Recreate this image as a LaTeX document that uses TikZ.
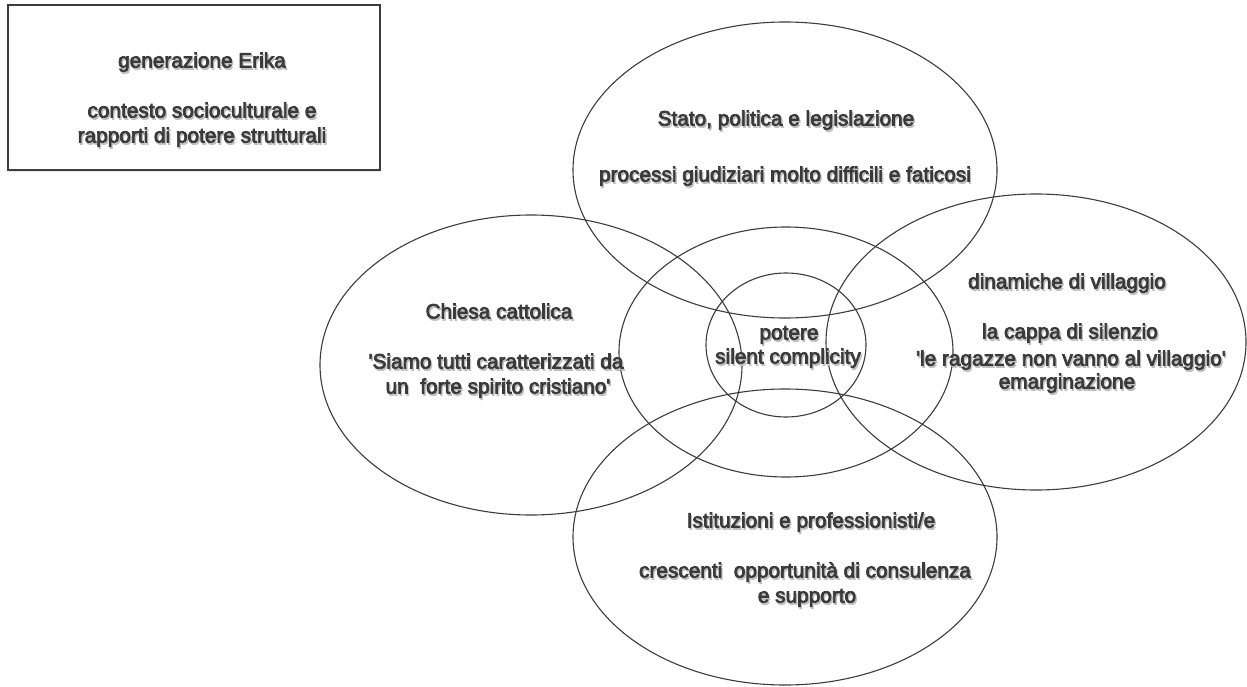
\documentclass[tikz,border=0pt]{standalone}
\usepackage{fontspec}
\setmainfont{Liberation Sans}
\newfontfamily\heavyfont{Liberation Sans}[FakeBold=3.5]
\usetikzlibrary{shapes.geometric,shadows,calc}
\definecolor{ink}{HTML}{3A3A3A}
\definecolor{linec}{HTML}{3C3C3C}
\tikzset{
  venn/.style={ellipse, draw=linec, line width=1.1pt, inner sep=0pt},
  lbl/.style={anchor=base, inner sep=0pt, text=ink, font=\heavyfont\fontsize{20.8}{25}\selectfont},
  lblshadow/.style={anchor=base, inner sep=0pt, text=black!25, font=\heavyfont\fontsize{20.8}{25}\selectfont},
  framebox/.style={draw=linec, line width=1.2pt, fill=white, inner sep=0pt,
    drop shadow={shadow xshift=1pt, shadow yshift=-2pt, opacity=0.2}}
}
\newcommand{\vlabel}[4]{%
  \node[lblshadow] (#1s) at ($(#2,#3)+(1.3,2)$) {#4};
  \node[lbl] (#1) at (#2,#3) {#4};}
\begin{document}
\begin{tikzpicture}[x=1pt,y=-1pt]
\useasboundingbox (0,0) rectangle (1247,687);
% box
\node[framebox, minimum width=372pt, minimum height=165pt] (box) at (194,87.5) {};
% ellipses
\node[venn, minimum width=424pt, minimum height=296pt] (top) at (785,170) {};
\node[venn, minimum width=422pt, minimum height=300pt] (left) at (531,365) {};
\node[venn, minimum width=420pt, minimum height=296pt] (right) at (1036,342) {};
\node[venn, minimum width=424pt, minimum height=296pt] (bottom) at (785,537) {};
\node[venn, minimum width=334pt, minimum height=250pt] (mid) at (786,352) {};
\node[venn, minimum width=160pt, minimum height=144pt] (core) at (786,345) {};
% texts
\vlabel{b1}{202}{67.5}{generazione Erika}
\vlabel{b2}{202}{117.5}{contesto socioculturale e}
\vlabel{b3}{202}{142.5}{rapporti di potere strutturali}
\vlabel{t1}{786}{125.5}{Stato, politica e legislazione}
\vlabel{t2}{785}{181.5}{processi giudiziari molto difficili e faticosi}
\vlabel{l1}{499}{318.5}{Chiesa cattolica}
\vlabel{l2}{496}{368.5}{\textquotesingle Siamo tutti caratterizzati da}
\vlabel{l3}{498}{393.5}{un\ \ forte spirito cristiano\textquotesingle}
\vlabel{c1}{789}{339.5}{potere}
\vlabel{c2}{788}{363.5}{silent complicity}
\vlabel{r1}{1067}{288.5}{dinamiche di villaggio}
\vlabel{r2}{1070}{338.5}{la cappa di silenzio}
\vlabel{r3}{1071}{365.5}{\textquotesingle le ragazze non vanno al villaggio\textquotesingle}
\vlabel{r4}{1067}{388.5}{emarginazione}
\vlabel{s1}{811}{527.5}{Istituzioni e professionisti/e}
\vlabel{s2}{805}{577.5}{crescenti\ \ opportunità di consulenza}
\vlabel{s3}{807}{602.5}{e supporto}
\end{tikzpicture}
\end{document}
